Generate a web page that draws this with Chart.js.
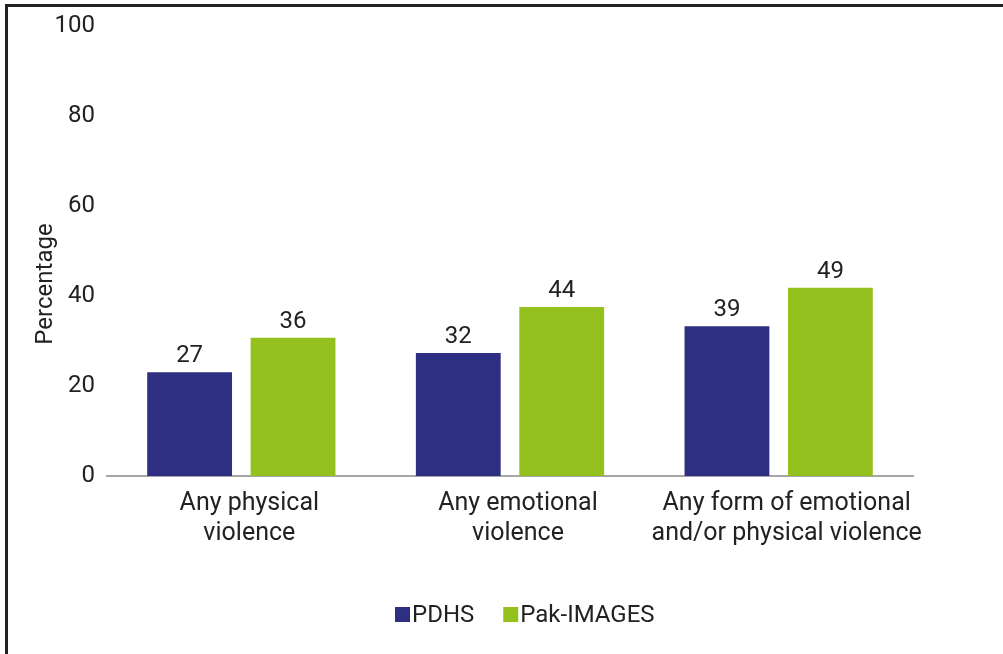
<!DOCTYPE html>
<html>
<head>
<meta charset="utf-8">
<script src="https://cdn.jsdelivr.net/npm/chart.js@4"></script>
<style>
  html, body { margin: 0; padding: 0; background: #fff; }
  body { width: 1003px; height: 654px; position: relative; overflow: hidden; }
  #frame { position: absolute; left: 5px; top: 4px; width: 1000px; height: 700px;
           border-top: 3px solid #222; border-left: 3px solid #222; box-sizing: border-box; }
  #wrap { position: absolute; left: 0; top: 0; width: 1003px; height: 654px; }
</style>
</head>
<body>
<div id="frame"></div>
<div id="wrap"><canvas id="myChart" width="1003" height="654"></canvas></div>
<script>
// categories and values as printed on the bars
const categories = [
    ["Any physical", "violence"],
    ["Any emotional", "violence"],
    ["Any form of emotional", "and/or physical violence"]
]
const pdhs = [27, 32, 39]
const pakImages = [36, 44, 49]
const tickLabels = ["0", "20", "40", "60", "80", "100"]
// the bars in the original sit lower than the printed ticks suggest,
// so the axis actually runs to ~117 while labelled 0-100
const axisMax = 117

const FONT = "Roboto"
const FS = 24

// numbers above the bars, y title and legend drawn by hand
const extras = {
    id: 'extras',
    afterDatasetsDraw(chart) {
        const ctx = chart.ctx
        ctx.save()
        ctx.font = FS + "px " + FONT
        ctx.fillStyle = "#222"
        ctx.textAlign = "center"
        ctx.textBaseline = "bottom"
        chart.data.datasets.forEach((ds, i) => {
            chart.getDatasetMeta(i).data.forEach((bar, j) => {
                ctx.fillText(ds.data[j], bar.x, bar.y - 4)
            })
        })

        // y axis title (sits a bit below centre in the original)
        ctx.save()
        ctx.translate(46, 284)
        ctx.rotate(-Math.PI / 2)
        ctx.textBaseline = "middle"
        ctx.fillText("Percentage", 0, 0)
        ctx.restore()

        // legend
        let x = 395
        const y = 615
        ctx.textAlign = "left"
        ctx.textBaseline = "middle"
        chart.data.datasets.forEach(ds => {
            ctx.fillStyle = ds.backgroundColor
            ctx.fillRect(x, y - 8, 15, 15)
            ctx.fillStyle = "#222"
            ctx.fillText(ds.label, x + 17, y + 1)
            x += 17 + ctx.measureText(ds.label).width + 29
        })
        ctx.restore()
    }
}

var canvas = document.getElementById('myChart').getContext('2d')

new Chart(canvas, {
    type: "bar",
    data: {
        labels: categories,
        datasets: [
            { label: "PDHS", data: pdhs, backgroundColor: "#2e2e83" },
            { label: "Pak-IMAGES", data: pakImages, backgroundColor: "#95c11f" }
        ]
    },
    plugins: [extras],
    options: {
        responsive: false,
        animation: false,
        layout: { padding: { left: 20, right: 90, top: 14, bottom: 60 } },
        datasets: {
            bar: { categoryPercentage: 0.77, barPercentage: 0.82 }
        },
        scales: {
            x: {
                grid: { display: false, drawTicks: false },
                border: { display: true, color: "#a6a6a6", width: 2 },
                ticks: {
                    color: "#222", font: { family: FONT, size: 25 }, padding: 13,
                    maxRotation: 0, autoSkip: false, labelOffset: 8
                },
                afterFit(scale) { scale.height = 118 }
            },
            y: {
                min: 0,
                max: axisMax,
                grid: { display: false, drawTicks: false },
                border: { display: false },
                afterBuildTicks(scale) {
                    scale.ticks = tickLabels.map((t, i) => ({ value: i * axisMax / (tickLabels.length - 1) }))
                },
                ticks: {
                    color: "#222",
                    font: { family: FONT, size: FS },
                    padding: 12,
                    callback: (v, i) => tickLabels[i]
                },
                afterFit(scale) { scale.width = 87 }
            }
        },
        plugins: {
            legend: { display: false },
            tooltip: { enabled: false }
        }
    }
})
</script>
</body>
</html>
